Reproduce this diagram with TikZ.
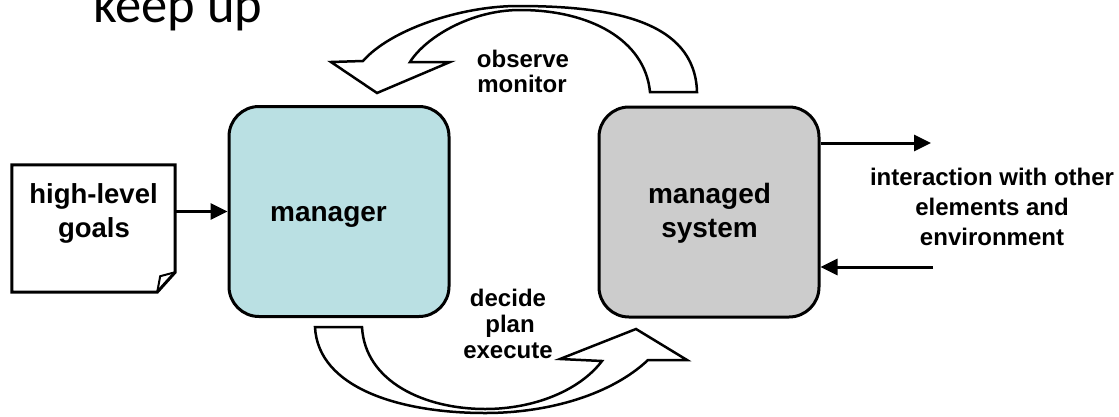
\documentclass[tikz,border=0pt]{standalone}
\usepackage{fontspec}
\setmainfont{Liberation Sans}
\newfontfamily\keepfont{Carlito}
\usetikzlibrary{arrows.meta,calc}
\definecolor{mgrfill}{RGB}{186,224,227}
\definecolor{sysfill}{RGB}{204,204,204}
\begin{document}
\begin{tikzpicture}[x=1pt,y=-1pt,
  box/.style={draw=black, line width=3pt, rounded corners=30pt, minimum width=220pt, minimum height=210pt, inner sep=0pt},
  big/.style={font=\bfseries\fontsize{28}{34}\selectfont, anchor=base, inner sep=0pt},
  small/.style={font=\bfseries\fontsize{24}{26}\selectfont, anchor=base, inner sep=0pt},
  conn/.style={line width=3pt, -{Triangle[length=17pt,width=16pt]}},
  cyclearrow/.style={draw=black, fill=white, line width=2.5pt, line join=miter}]
\useasboundingbox (0,0) rectangle (1119,416);
\clip (0,0) rectangle (1119,416);

% title fragment
\node[font=\keepfont\fontsize{52.5}{60}\selectfont, anchor=base west, inner sep=0pt] (keep) at (93,22) {keep up};

% boxes
\node[box, fill=mgrfill] (mgr) at (339,211.5) {};
\node[box, fill=sysfill] (sys) at (709,212) {};
\node[big] (tmgr) at (328.5,221.5) {manager};
\node[big] (tms1) at (709.5,203) {managed};
\node[big] (tms2) at (709.5,237) {system};

% document
\node[minimum width=163pt, minimum height=127pt, inner sep=0pt] (goals) at (93.5,228.5) {};
\draw[line width=3pt, line join=miter, fill=white]
  (goals.north west) -- (goals.north east) -- ($(goals.south east)+(0,-20)$)
  -- ($(goals.south east)+(-18,0)$) -- (goals.south west) -- cycle;
\draw[line width=2pt] ($(goals.south east)+(0,-20)$) -- ($(goals.south east)+(-15,-16)$) -- ($(goals.south east)+(-18,0)$);
\node[big, font=\bfseries\fontsize{27.5}{34}\selectfont] (thl1) at (93.5,203) {high-level};
\node[big, font=\bfseries\fontsize{27.5}{34}\selectfont] (thl2) at (94,237) {goals};

% connectors
\draw[conn] (goals.east |- mgr.west) -- (mgr.west);
\coordinate (out) at (931,143);
\coordinate (in) at (933,267);
\draw[conn] (sys.east |- out) -- (out);
\draw[conn] (in) -- (in -| sys.east);

\node[small] (int1) at (992,185) {interaction with other};
\node[small] (int2) at (992,215) {elements and};
\node[small] (int3) at (992,245) {environment};

% top curved arrow (observe / monitor)
\draw[cyclearrow]
  (650,92) -- (697,92)
  .. controls (695,20) and (610,6) .. (518,6)
  .. controls (460,6) and (390,30) .. (363,61)
  -- (331,62) -- (377,93) -- (450,62) -- (410,62)
  .. controls (425,38) and (470,10) .. (520,10)
  .. controls (590,10) and (645,40) .. (650,92) -- cycle;
\node[small] (obs) at (523,67) {observe};
\node[small] (mon) at (522,92) {monitor};

% bottom curved arrow (decide / plan / execute)
\draw[cyclearrow]
  (315,327) -- (362,327)
  .. controls (365,382) and (425,409) .. (485,409)
  .. controls (535,409) and (580,390) .. (602,361)
  -- (560,359) -- (636,329) -- (687,360) -- (648,360)
  .. controls (612,394) and (550,413) .. (485,413)
  .. controls (400,413) and (318,388) .. (315,327) -- cycle;
\node[small] (dec) at (508,306) {decide};
\node[small] (pla) at (510,332) {plan};
\node[small] (exe) at (508,358) {execute};
\end{tikzpicture}
\end{document}
